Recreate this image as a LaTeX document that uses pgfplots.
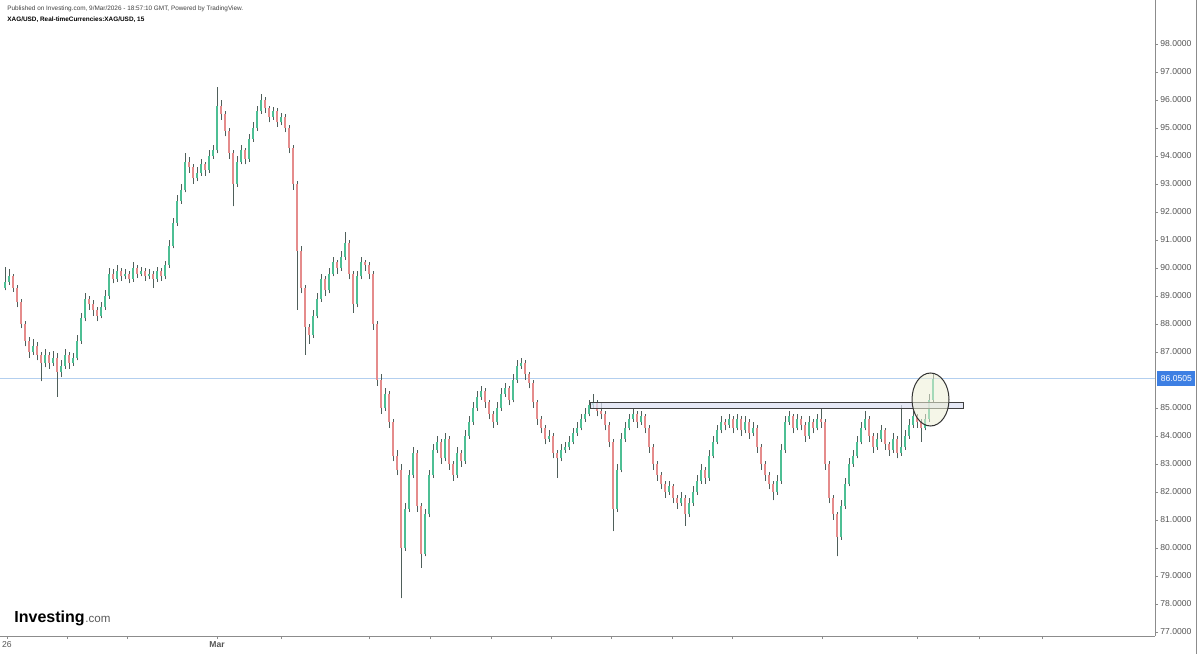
\documentclass[border=0pt]{standalone}
\usepackage{fontspec}
\setmainfont{Liberation Sans}
\usepackage{pgfplots}
\usepackage{pgfplotstable}
\pgfplotsset{compat=1.18}
\definecolor{upc}{HTML}{4DBF94}
\definecolor{dnc}{HTML}{E58C8C}
\definecolor{wick}{HTML}{4F5F5A}
\definecolor{axisgray}{HTML}{8C8C8C}
\definecolor{lblgray}{HTML}{555555}
\definecolor{pricebl}{HTML}{3D7FE3}
\definecolor{pline}{HTML}{B3CFEF}
\definecolor{boxfill}{HTML}{DCE0F2}
\definecolor{ellfill}{HTML}{EDEFD6}

% x in chart pixels, OHLC in USD
\pgfplotstableread{
x o h l c
5 89.30 90.05 89.20 89.50
9 89.50 89.95 89.40 89.70
13 89.70 89.80 89.15 89.30
17 89.30 89.40 88.60 88.80
21 88.80 88.90 87.85 88.00
25 88.00 88.10 87.20 87.40
29 87.40 87.55 86.80 87.00
33 87.00 87.45 86.90 87.20
37 87.20 87.35 86.70 86.90
41 86.90 87.00 85.95 86.60
45 86.60 87.10 86.45 86.90
49 86.90 87.00 86.40 86.60
53 86.60 87.05 86.50 86.80
57 86.80 86.95 85.40 86.30
61 86.30 86.70 86.10 86.50
65 86.50 87.10 86.40 86.90
69 86.90 87.00 86.40 86.60
73 86.60 86.95 86.50 86.80
77 86.80 87.60 86.70 87.40
81 87.40 88.40 87.30 88.20
85 88.20 89.10 88.10 88.90
89 88.90 89.00 88.50 88.70
93 88.70 88.85 88.30 88.50
97 88.50 88.60 88.10 88.30
101 88.30 88.80 88.20 88.60
105 88.60 89.20 88.50 89.00
109 89.00 90.00 88.90 89.80
113 89.80 89.95 89.45 89.60
117 89.60 90.10 89.50 89.90
121 89.90 90.00 89.55 89.70
125 89.70 89.95 89.60 89.80
129 89.80 89.90 89.45 89.60
133 89.60 90.20 89.50 90.00
137 90.00 90.10 89.65 89.80
141 89.80 90.05 89.70 89.90
145 89.90 90.00 89.55 89.70
149 89.70 89.95 89.60 89.80
153 89.80 89.90 89.30 89.60
157 89.60 90.05 89.50 89.90
161 89.90 90.00 89.55 89.70
165 89.70 90.25 89.60 90.10
169 90.10 91.00 90.00 90.80
173 90.80 91.80 90.70 91.60
177 91.60 92.60 91.50 92.40
181 92.40 93.00 92.30 92.80
185 92.80 94.10 92.70 93.80
189 93.80 93.95 93.40 93.60
193 93.60 93.70 93.00 93.20
197 93.20 93.60 93.10 93.40
201 93.40 93.90 93.30 93.70
205 93.70 93.80 93.30 93.50
209 93.50 94.20 93.40 94.00
213 94.00 94.40 93.90 94.20
217 94.20 96.45 94.10 95.80
221 95.80 96.00 95.30 95.50
225 95.50 95.60 94.70 94.90
229 94.90 95.00 93.90 94.10
233 94.10 94.20 92.20 93.00
237 93.00 94.00 92.90 93.80
241 93.80 94.40 93.70 94.20
245 94.20 94.30 93.70 93.90
249 93.90 94.80 93.80 94.60
253 94.60 95.20 94.50 95.00
257 95.00 95.80 94.90 95.60
261 95.60 96.20 95.50 96.00
265 96.00 96.10 95.55 95.70
269 95.70 95.80 95.20 95.40
273 95.40 95.75 95.30 95.60
277 95.60 95.70 95.05 95.20
281 95.20 95.55 95.10 95.40
285 95.40 95.50 94.85 95.00
289 95.00 95.10 94.10 94.30
293 94.30 94.40 92.80 93.00
297 93.00 93.10 88.50 90.60
301 90.60 90.80 89.10 89.30
305 89.30 89.40 86.90 87.90
309 87.90 88.00 87.30 87.60
313 87.60 88.50 87.50 88.30
317 88.30 89.10 88.20 88.90
321 88.90 89.80 88.80 89.60
325 89.60 89.70 89.00 89.20
329 89.20 90.00 89.10 89.80
333 89.80 90.40 89.70 90.20
337 90.20 90.30 89.80 90.00
341 90.00 90.60 89.90 90.40
345 90.40 91.30 90.30 90.90
349 90.90 91.00 89.60 89.80
353 89.80 89.90 88.40 88.70
357 88.70 89.90 88.60 89.70
361 89.70 90.40 89.60 90.20
365 90.20 90.30 89.90 90.10
369 90.10 90.20 89.60 89.80
373 89.80 89.90 87.80 88.00
377 88.00 88.10 85.80 86.00
381 86.00 86.20 84.80 85.00
385 85.00 85.70 84.90 85.50
389 85.50 85.60 84.30 84.50
393 84.50 84.60 83.10 83.30
397 83.30 83.50 82.60 82.80
401 82.80 83.00 78.20 80.00
405 80.00 81.60 79.90 81.40
409 81.40 82.80 81.30 82.60
413 82.60 83.60 82.50 83.40
417 83.40 83.50 81.30 81.50
421 81.50 81.60 79.30 79.80
425 79.80 81.40 79.70 81.20
429 81.20 82.80 81.10 82.60
433 82.60 83.70 82.50 83.50
437 83.50 84.00 83.40 83.80
441 83.80 83.90 83.00 83.20
445 83.20 84.10 83.10 83.90
449 83.90 84.00 82.80 83.00
453 83.00 83.10 82.40 82.60
457 82.60 83.60 82.50 83.40
461 83.40 83.50 82.90 83.10
465 83.10 84.20 83.00 84.00
469 84.00 84.70 83.90 84.50
473 84.50 85.20 84.40 85.00
477 85.00 85.60 84.90 85.40
481 85.40 85.80 85.30 85.60
485 85.60 85.70 85.00 85.20
489 85.20 85.30 84.60 84.80
493 84.80 84.90 84.30 84.50
497 84.50 85.20 84.40 85.00
501 85.00 85.70 84.90 85.50
505 85.50 85.90 85.40 85.70
509 85.70 85.80 85.10 85.30
513 85.30 86.20 85.20 86.00
517 86.00 86.70 85.90 86.50
521 86.50 86.80 86.40 86.60
525 86.60 86.70 86.00 86.20
529 86.20 86.30 85.70 85.90
533 85.90 86.00 85.00 85.20
537 85.20 85.30 84.40 84.60
541 84.60 84.70 84.10 84.30
545 84.30 84.40 83.70 83.90
549 83.90 84.20 83.80 84.00
553 84.00 84.10 83.20 83.40
557 83.40 83.50 82.50 83.20
561 83.20 83.70 83.10 83.50
565 83.50 83.80 83.40 83.60
569 83.60 84.00 83.50 83.80
573 83.80 84.30 83.70 84.10
577 84.10 84.50 84.00 84.30
581 84.30 84.80 84.20 84.60
585 84.60 85.00 84.50 84.80
589 84.80 85.30 84.70 85.10
593 85.10 85.50 85.00 85.20
597 85.20 85.30 84.70 84.90
601 84.90 85.20 84.60 84.80
605 84.80 84.90 84.20 84.40
609 84.40 84.50 83.60 83.80
613 83.80 83.90 80.60 81.40
617 81.40 83.00 81.30 82.80
621 82.80 84.10 82.70 83.90
625 83.90 84.50 83.80 84.30
629 84.30 84.80 84.20 84.60
633 84.60 85.00 84.50 84.80
637 84.80 84.90 84.30 84.50
641 84.50 84.90 84.40 84.70
645 84.70 84.80 84.10 84.30
649 84.30 84.40 83.40 83.60
653 83.60 83.70 82.80 83.00
657 83.00 83.10 82.40 82.60
661 82.60 82.70 82.10 82.30
665 82.30 82.40 81.80 82.00
669 82.00 82.40 81.90 82.20
673 82.20 82.30 81.60 81.80
677 81.80 81.90 81.40 81.60
681 81.60 82.00 81.50 81.80
685 81.80 81.90 80.80 81.20
689 81.20 81.80 81.10 81.60
693 81.60 82.20 81.50 82.00
697 82.00 82.60 81.90 82.40
701 82.40 83.00 82.30 82.80
705 82.80 82.90 82.30 82.50
709 82.50 83.50 82.40 83.30
713 83.30 84.00 83.20 83.80
717 83.80 84.40 83.70 84.20
721 84.20 84.70 84.10 84.50
725 84.50 84.60 84.20 84.40
729 84.40 84.80 84.30 84.60
733 84.60 84.70 84.10 84.30
737 84.30 84.80 84.20 84.60
741 84.60 84.70 84.00 84.20
745 84.20 84.70 84.10 84.50
749 84.50 84.60 83.90 84.10
753 84.10 84.50 84.00 84.30
757 84.30 84.40 83.40 83.60
761 83.60 83.70 82.80 83.00
765 83.00 83.10 82.40 82.60
769 82.60 82.70 82.10 82.30
773 82.30 82.40 81.70 82.00
777 82.00 82.60 81.90 82.40
781 82.40 83.70 82.30 83.50
785 83.50 84.70 83.40 84.50
789 84.50 84.90 84.40 84.70
793 84.70 84.80 84.10 84.30
797 84.30 84.80 84.20 84.60
801 84.60 84.70 84.20 84.40
805 84.40 84.50 83.80 84.00
809 84.00 84.70 83.90 84.50
813 84.50 84.60 84.10 84.30
817 84.30 84.80 84.20 84.60
821 84.60 85.00 84.30 84.50
825 84.50 84.60 82.80 83.00
829 83.00 83.10 81.60 81.80
833 81.80 81.90 81.00 81.20
837 81.20 81.30 79.70 80.40
841 80.40 81.70 80.30 81.50
845 81.50 82.50 81.40 82.30
849 82.30 83.20 82.20 83.00
853 83.00 83.50 82.90 83.30
857 83.30 84.00 83.20 83.80
861 83.80 84.50 83.70 84.30
865 84.30 84.90 84.20 84.60
869 84.60 84.70 83.80 84.00
873 84.00 84.10 83.40 83.60
877 83.60 84.10 83.50 83.90
881 83.90 84.40 83.80 84.20
885 84.20 84.30 83.50 83.70
889 83.70 83.80 83.30 83.50
893 83.50 84.10 83.40 83.90
897 83.90 84.00 83.20 83.40
901 83.40 85.10 83.30 83.60
905 83.60 84.20 83.50 84.00
909 84.00 84.60 83.90 84.40
913 84.40 84.90 84.30 84.70
917 84.70 84.80 84.30 84.50
921 84.50 84.60 83.80 84.30
925 84.30 84.80 84.20 84.60
929 84.60 85.50 84.50 85.30
933 85.30 86.20 85.20 86.05
}\bars

\pgfplotsset{ohlc/.style={only marks, mark=*, mark size=0pt, mark options={draw=none, fill=none},
  error bars/.cd, y dir=plus, y explicit, error mark=none}}

\begin{document}
\begin{tikzpicture}
\path[use as bounding box] (0pt,-9pt) rectangle (600pt,318pt);
\begin{axis}[
  scale only axis, width=577.5pt, height=318pt,
  xmin=0, xmax=1155, ymin=76.857, ymax=99.571,
  axis x line*=bottom, axis y line*=right,
  axis line style={axisgray, line width=0.5pt},
  tick style={axisgray, line width=0.4pt},
  tick align=outside, major tick length=1.5pt,
  xtick={7,67,127,217,281,369,430,491,551,611,672,732,822,917,979,1042},
  xticklabels={26,{},{},\textbf{Mar},{},{},{},{},{},{},{},{},{},{},{},{}},
  xticklabel style={font=\fontsize{4.3}{5}\selectfont, text=lblgray, inner sep=0pt, anchor=base, yshift=-4pt},
  ytick={77,78,...,85,87,88,...,98},
  yticklabel style={font=\fontsize{4.3}{5}\selectfont, text=lblgray, inner sep=0pt, anchor=west, xshift=1pt,
    /pgf/number format/.cd, fixed, fixed zerofill, precision=4, assume math mode=true},
  clip=false,
]
\addplot[pline, line width=0.5pt] coordinates {(0,86.0505) (1155,86.0505)};
% wicks
\addplot[ohlc, error bar style={draw=wick, line width=0.35pt}]
  table[x=x, y=l, y error plus expr=\thisrow{h}-\thisrow{l}] {\bars};
% up bodies
\addplot[ohlc, error bar style={draw=upc, line width=1.3pt}]
  table[x=x, y=o, y error plus expr={max(\thisrow{c}-\thisrow{o},0)}] {\bars};
% down bodies
\addplot[ohlc, error bar style={draw=dnc, line width=1.3pt}]
  table[x=x, y=c, y error plus expr={max(\thisrow{o}-\thisrow{c},0)}] {\bars};
\end{axis}
\begin{scope}[x=0.5pt, y=-0.5pt, shift={(0pt,318pt)}]
  \draw[axisgray, line width=0.5pt] (1196,0) -- (1196,654);
  \draw[fill=boxfill, fill opacity=0.75, draw=black!75, line width=0.5pt] (590,402.7) rectangle (963,408.3);
  \draw[fill=ellfill, fill opacity=0.55, draw=black!80, line width=0.5pt] (930.5,399.5) ellipse [x radius=9.25pt, y radius=13.25pt];
  \node[fill=pricebl, text=white, inner sep=0pt, minimum width=19pt, minimum height=7.5pt, anchor=west,
    font=\fontsize{4.3}{5}\selectfont] at (1157,378.6) {86.0505};
  \node[anchor=base west, inner sep=0pt, font=\fontsize{3.2}{4}\selectfont, text=black!75] at (7,11)
    {Published on Investing.com, 9/Mar/2026 - 18:57:10 GMT, Powered by TradingView.};
  \node[anchor=base west, inner sep=0pt, font=\fontsize{3.2}{4}\selectfont\bfseries] at (7,21.5)
    {XAG/USD, Real-timeCurrencies:XAG/USD, 15};
  \node[anchor=base west, inner sep=0pt, font=\fontsize{8}{9}\selectfont\bfseries] (inv) at (14,622) {Investing};
  \node[anchor=base west, inner sep=0pt, font=\fontsize{5.8}{7}\selectfont, text=black!65] at (inv.base east) {.com};
\end{scope}
\end{tikzpicture}
\end{document}
